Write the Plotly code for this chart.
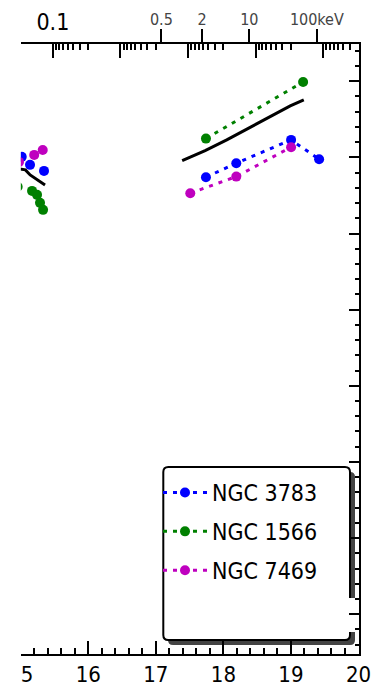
import numpy as np
import plotly.graph_objects as go

W, H = 381, 691

# ---- data: log10(frequency / Hz) vs log10(nu L_nu) ----
blue_x = [17.742, 18.191, 19.002, 19.417]
blue_y = [43.740, 43.924, 44.230, 43.976]
green_x = [17.742, 19.180]
green_y = [44.247, 44.991]
mag_x = [17.510, 18.191, 19.002]
mag_y = [43.530, 43.748, 44.134]

# optical / UV points
blue_opt_x = [15.015, 15.138, 15.345]
blue_opt_y = [44.007, 43.902, 43.823]
mag_opt_x = [14.975, 15.200, 15.326]
mag_opt_y = [43.941, 44.033, 44.098]
green_opt_x = [14.955, 15.168, 15.242, 15.286, 15.331]
green_opt_y = [43.615, 43.560, 43.508, 43.403, 43.311]

# model curve
model_x = [14.90, 15.07, 15.14, 15.36, None, 17.39, 17.73, 18.05, 18.70, 18.99, 19.19]
model_y = [43.86, 43.836, 43.770, 43.639, None, 43.958, 44.089, 44.230, 44.535, 44.676, 44.755]

names = ["NGC 3783", "NGC 1566", "NGC 7469"]
colors = ["#0000ff", "#008000", "#bf00bf"]

freq_ticks = [15, 16, 17, 18, 19, 20]
energy_kev = [0.5, 2, 10, 100]
energy_text = ["0.5", "2", "10", "100keV"]
wave_um = [0.1, 0.01, 0.001, 1e-4, 1e-5]
wave_text = ["0.1", "", "", "", ""]
wave_sub = [0.3, 0.4, 0.5, 0.6, 0.7, 0.8, 0.9]

H_EV = 4.135667696e-15
C_UM = 2.99792458e14
energy_pos = [float(np.log10(e * 1e3 / H_EV)) for e in energy_kev]
wave_pos = [float(np.log10(C_UM / w)) for w in wave_um]
wave_minor = sorted(float(np.log10(C_UM / (s * w))) for w in wave_um for s in wave_sub
                    if 15 <= np.log10(C_UM / (s * w)) <= 20)

FONT = "DejaVu Sans Condensed, DejaVu Sans, sans-serif"


def px(x):
    return x / W


def py(y):
    return 1 - y / H


fig = go.Figure()

dash = "4px,6px"
series = [(blue_x, blue_y, blue_opt_x, blue_opt_y),
          (green_x, green_y, green_opt_x, green_opt_y),
          (mag_x, mag_y, mag_opt_x, mag_opt_y)]
for (xs, ys, ox, oy), name, col in zip(series, names, colors):
    fig.add_trace(go.Scatter(x=xs, y=ys, mode="lines+markers", name=name, legendgroup=name,
                             line=dict(color=col, width=3, dash=dash),
                             marker=dict(color=col, size=10)))
    fig.add_trace(go.Scatter(x=ox, y=oy, mode="markers", showlegend=False, legendgroup=name,
                             marker=dict(color=col, size=10)))

fig.add_trace(go.Scatter(x=model_x, y=model_y, mode="lines", showlegend=False,
                         line=dict(color="black", width=3)))

# carrier traces so the top axes get drawn
fig.add_trace(go.Scatter(x=[None], y=[None], xaxis="x2", showlegend=False))
fig.add_trace(go.Scatter(x=[None], y=[None], xaxis="x3", showlegend=False))

x0, x1 = 20.7, 358.5
y0, y1 = 43.5, 653.5
xdom = [px(x0), px(x1)]
ydom = [py(y1), py(y0)]

fig.update_layout(
    template="none",
    width=W, height=H, margin=dict(l=0, r=0, t=0, b=0, autoexpand=False),
    paper_bgcolor="white", plot_bgcolor="white",
    font=dict(family=FONT, color="black"),
    xaxis=dict(range=[15, 20], domain=xdom, anchor="y", side="bottom", automargin=False,
               showline=True, linewidth=2, linecolor="black", showgrid=False, zeroline=False,
               tickvals=freq_ticks, ticktext=[str(v) for v in freq_ticks],
               ticks="inside", ticklen=13, tickwidth=1.5, tickcolor="black",
               tickfont=dict(size=22, family=FONT),
               minor=dict(tickvals=[round(15 + 0.2 * i, 1) for i in range(26) if i % 5],
                          ticks="inside", ticklen=6, tickwidth=1.5, tickcolor="black",
                          showgrid=False)),
    xaxis2=dict(range=[15, 20], overlaying="x", anchor="y", side="top", automargin=False,
                showline=True, linewidth=2, linecolor="black", showgrid=False, zeroline=False,
                tickvals=energy_pos, ticktext=energy_text,
                ticks="outside", ticklen=13, tickwidth=1.5, tickcolor="black",
                ticklabelstandoff=-3,
                tickfont=dict(size=16, family=FONT, color="#444444")),
    xaxis3=dict(range=[15, 20], overlaying="x", anchor="y", side="top", automargin=False,
                showline=False, showgrid=False, zeroline=False,
                tickvals=wave_pos, ticktext=wave_text,
                ticks="inside", ticklen=14, tickwidth=1.5, tickcolor="black",
                ticklabelstandoff=8,
                tickfont=dict(size=23, family=FONT, color="black"),
                minor=dict(tickvals=wave_minor, ticks="inside", ticklen=6,
                           tickwidth=1.5, tickcolor="black", showgrid=False)),
    yaxis=dict(range=[37.484, 45.496], domain=ydom, anchor="x", side="right", automargin=False,
               showline=True, linewidth=2, linecolor="black", showgrid=False, zeroline=False,
               tickvals=list(range(38, 46)), showticklabels=False,
               ticks="inside", ticklen=10, tickwidth=1.5, tickcolor="black",
               minor=dict(dtick=0.2, tick0=38, ticks="inside", ticklen=4,
                          tickwidth=1.5, tickcolor="black", showgrid=False)),
    showlegend=True,
    legend=dict(x=px(158), y=py(471), xanchor="left", yanchor="top",
                traceorder="grouped", tracegroupgap=6,
                bgcolor="rgba(0,0,0,0)", borderwidth=0, itemwidth=44,
                font=dict(size=23, family=FONT, color="black")),
)


def rounded_rect(l, t, r, b, rad):
    L, R, T, B = px(l), px(r), py(t), py(b)
    rx, ry = rad / W, rad / H
    return (f"M{L + rx},{T} L{R - rx},{T} Q{R},{T} {R},{T - ry} "
            f"L{R},{B + ry} Q{R},{B} {R - rx},{B} L{L + rx},{B} "
            f"Q{L},{B} {L},{B + ry} L{L},{T - ry} Q{L},{T} {L + rx},{T} Z")


shapes = [
    # legend shadow and frame
    dict(type="path", xref="paper", yref="paper", path=rounded_rect(168, 472, 355, 645, 5),
         fillcolor="#444444", line=dict(width=0), layer="below"),
    dict(type="path", xref="paper", yref="paper", path=rounded_rect(163.3, 467, 350, 640, 5),
         fillcolor="white", line=dict(color="black", width=2), layer="below"),
    dict(type="rect", xref="paper", yref="paper", x0=px(347), x1=px(355.5),
         y0=py(632), y1=py(598), fillcolor="white", line=dict(width=0), layer="below"),
    # blank strip left of the frame
    dict(type="rect", xref="paper", yref="paper", x0=-0.01, x1=px(x0 - 0.3),
         y0=0, y1=1, fillcolor="white", line=dict(width=0), layer="above"),
]
fig.update_layout(shapes=shapes)

fig.write_html("out.html")
